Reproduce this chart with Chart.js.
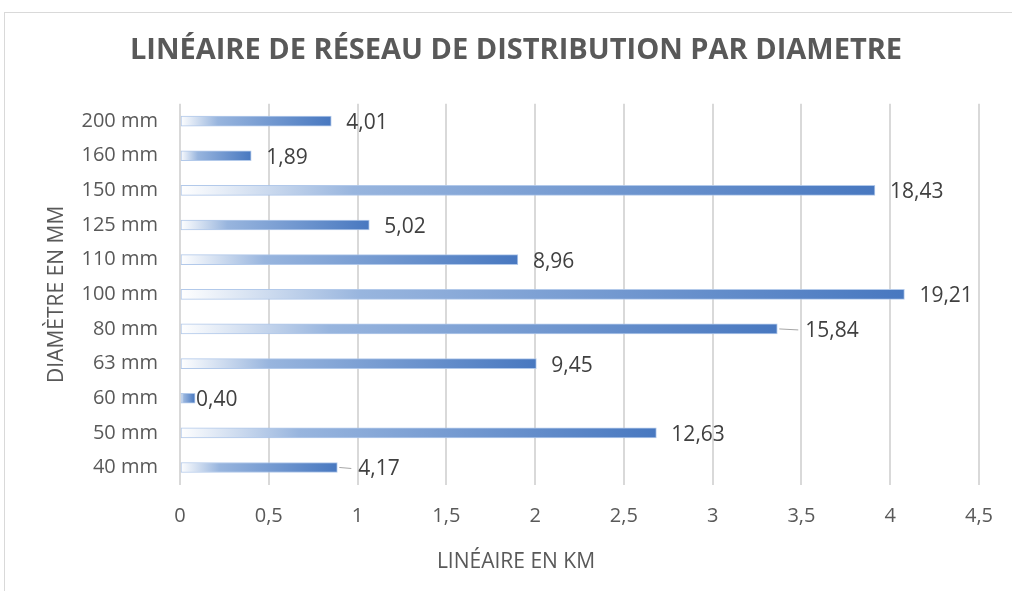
<!DOCTYPE html>
<html>
<head>
<meta charset="utf-8">
<script src="https://cdn.jsdelivr.net/npm/chart.js@4.4.1/dist/chart.umd.min.js"></script>
<style>
  html, body { margin: 0; padding: 0; background: #fff; }
  #wrap { position: relative; width: 1012px; height: 591px; overflow: hidden; }
  #frame { position: absolute; left: 4px; top: 12px; width: 1100px; height: 700px; border: 1px solid #d9d9d9; }
  canvas { position: absolute; left: 0; top: 0; }
</style>
</head>
<body>
<div id="wrap">
  <div id="frame"></div>
  <canvas id="myChart" width="1012" height="591"></canvas>
</div>
<script>
// diamètres (du haut vers le bas) et linéaire en km
var diametres = ['200 mm', '160 mm', '150 mm', '125 mm', '110 mm', '100 mm', '80 mm', '63 mm', '60 mm', '50 mm', '40 mm'];
var lineaireKm = [0.852, 0.401, 3.914, 1.066, 1.903, 4.080, 3.364, 2.007, 0.085, 2.683, 0.886];
// étiquettes affichées au bout des barres (part en %)
var partLabels = ['4,01', '1,89', '18,43', '5,02', '8,96', '19,21', '15,84', '9,45', '0,40', '12,63', '4,17'];

var FONT = "'Open Sans', sans-serif";

function barGradient(context) {
  var chart = context.chart;
  var area = chart.chartArea;
  if (!area) return '#4472c4';
  var x0 = chart.scales.x.getPixelForValue(0);
  var x1 = chart.scales.x.getPixelForValue(lineaireKm[context.dataIndex]);
  if (x1 - x0 < 2) x1 = x0 + 2;
  var g = chart.ctx.createLinearGradient(x0, 0, x1, 0);
  g.addColorStop(0, 'rgba(255,255,255,1)');
  g.addColorStop(0.25, 'rgb(152,181,222)');
  g.addColorStop(1, 'rgb(72,120,192)');
  return g;
}

// étiquettes de valeurs, avec petits traits de rappel sur certaines
var valueLabels = {
  id: 'valueLabels',
  afterDatasetsDraw: function (chart, args, opts) {
    var ctx = chart.ctx;
    var meta = chart.getDatasetMeta(0);
    ctx.save();
    ctx.font = '21px ' + FONT;
    ctx.fillStyle = '#404040';
    ctx.textBaseline = 'middle';
    meta.data.forEach(function (bar, i) {
      var off = opts.offsets[i] !== undefined ? opts.offsets[i] : opts.offset;
      if (opts.leaders.indexOf(i) >= 0) {
        ctx.strokeStyle = '#a6a6a6';
        ctx.lineWidth = 1;
        ctx.beginPath();
        ctx.moveTo(bar.x + 2, bar.y);
        ctx.lineTo(bar.x + off - 7, bar.y + 1);
        ctx.stroke();
      }
      ctx.fillText(partLabels[i], bar.x + off, bar.y + 2);
    });
    ctx.restore();
  }
};

var ctx = document.getElementById('myChart').getContext('2d');
var myChart = new Chart(ctx, {
  type: 'bar',
  data: {
    labels: diametres,
    datasets: [{
      data: lineaireKm,
      backgroundColor: barGradient,
      borderColor: 'rgba(170,195,232,0.9)',
      borderWidth: 1,
      borderSkipped: false,
      barThickness: 10
    }]
  },
  plugins: [valueLabels],
  options: {
    indexAxis: 'y',
    responsive: false,
    animation: false,
    layout: { padding: { left: 50, right: 30, top: 12, bottom: 0 } },
    plugins: {
      legend: { display: false },
      tooltip: { enabled: false },
      title: {
        display: true,
        text: 'LINÉAIRE DE RÉSEAU DE DISTRIBUTION PAR DIAMETRE',
        color: '#595959',
        font: { family: FONT, size: 29, weight: 'bold' },
        padding: { top: 21, bottom: 36 }
      },
      subtitle: {
        display: true,
        position: 'bottom',
        text: 'LINÉAIRE EN KM',
        color: '#595959',
        font: { family: FONT, size: 21 },
        padding: { top: 0, bottom: 16 }
      },
      valueLabels: {
        offset: 15,
        offsets: { 6: 28, 8: 1, 10: 21 },
        leaders: [6, 10]
      }
    },
    scales: {
      x: {
        min: 0,
        max: 4.5,
        ticks: {
          stepSize: 0.5,
          color: '#595959',
          font: { family: FONT, size: 20 },
          padding: 19,
          callback: function (v) { return String(v).replace('.', ','); }
        },
        grid: { color: '#d9d9d9', lineWidth: 2, drawTicks: false },
        border: { display: false },
        afterFit: function (axis) { axis.height = 65; }
      },
      y: {
        ticks: {
          color: '#595959',
          font: { family: FONT, size: 20 },
          padding: 14
        },
        grid: { display: false },
        border: { display: false },
        title: {
          display: true,
          text: 'DIAMÈTRE EN MM',
          color: '#595959',
          font: { family: FONT, size: 21 },
          padding: { top: -6 }
        },
        afterFit: function (axis) { axis.width = 130; }
      }
    }
  }
});
</script>
</body>
</html>
